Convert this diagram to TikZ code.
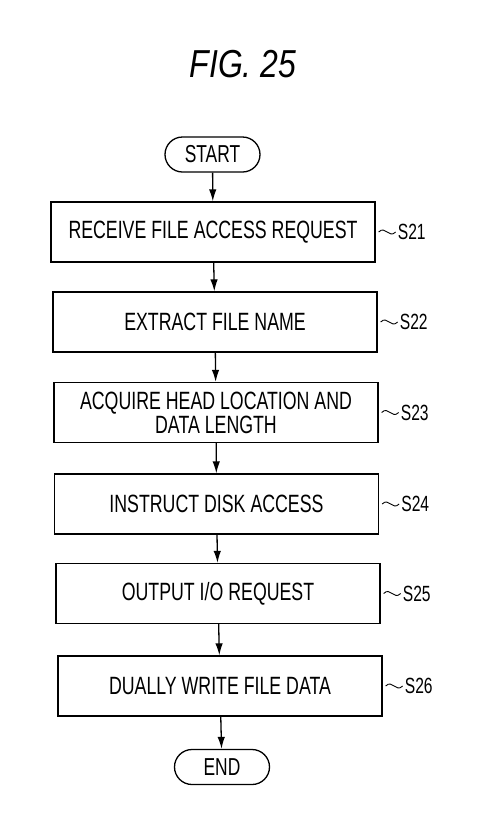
\documentclass[tikz,border=0pt]{standalone}
\usepackage{fontspec}
\setmainfont[FakeStretch=0.71]{Liberation Sans}
\newfontfamily\figfont[FakeStretch=0.82]{Liberation Sans}
\usetikzlibrary{arrows.meta, positioning, shapes.misc}

\begin{document}
\begin{tikzpicture}[x=1pt, y=-1pt,
    stepbox/.style={draw, line width=1.3pt, minimum width=324pt, minimum height=60pt, inner sep=0pt, align=center, font=\fontsize{25}{24}\selectfont},
    terminal/.style={draw, rounded rectangle, line width=1.3pt, minimum width=95pt, minimum height=35pt, inner sep=0pt, font=\fontsize{24.5}{24}\selectfont},
    flow/.style={line width=1.3pt, -{Latex[length=12pt, width=7.5pt]}},
    leader/.style={line width=0.9pt},
    steplabel/.style={inner sep=0pt, font=\fontsize{22}{22}\selectfont}]

    \useasboundingbox (0,0) rectangle (500,820);

    \node (title) at (243,64) {\figfont\fontsize{39}{39}\selectfont\itshape FIG. 25};

    \node[terminal] (start) at (212.5,154.5) {START};
    \node[stepbox] (s21) at (213,232) {RECEIVE FILE ACCESS REQUEST};
    \node[stepbox] (s22) at (215,322) {EXTRACT FILE NAME};
    \node[stepbox] (s23) at (216,412.5) {ACQUIRE HEAD LOCATION AND\\DATA LENGTH};
    \node[stepbox] (s24) at (216.5,504) {INSTRUCT DISK ACCESS};
    \node[stepbox] (s25) at (218,593.5) {OUTPUT I/O REQUEST};
    \node[stepbox] (s26) at (220,686) {DUALLY WRITE FILE DATA};
    \node[terminal] (end) at (222,767) {END};

    \draw[flow] (start) -- (s21);
    \draw[flow] (s21) -- (s22);
    \draw[flow] (s22) -- (s23);
    \draw[flow] (s23) -- (s24);
    \draw[flow] (s24) -- (s25);
    \draw[flow] (s25) -- (s26);
    \draw[flow] (s26) -- (end);

    % step numbers with tilde leaders
    \foreach \n in {21,...,26} {
        \node[steplabel, right=22pt of s\n] (lab\n) {S\n};
        \draw[leader] ([xshift=3pt]s\n.east) .. controls +(7,-7) and +(-7,7) .. ([xshift=-2pt]lab\n.west);
    }
\end{tikzpicture}
\end{document}
